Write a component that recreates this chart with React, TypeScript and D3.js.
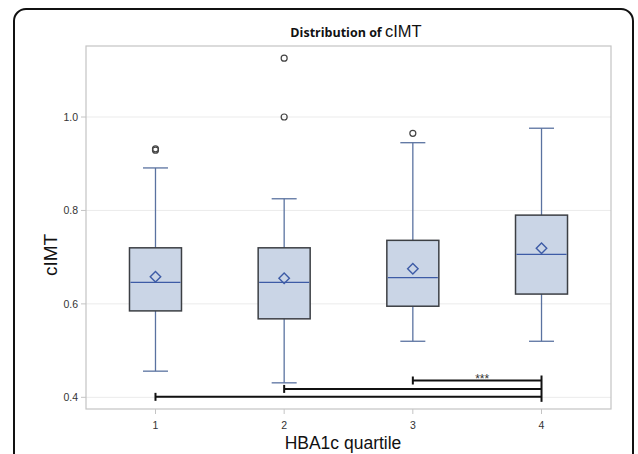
import React from "react";
import * as d3 from "d3";

// values
const quartiles = ["1", "2", "3", "4"];
const q1s = [0.585, 0.568, 0.595, 0.621];
const medians = [0.646, 0.646, 0.656, 0.706];
const q3s = [0.72, 0.72, 0.736, 0.79];
const means = [0.658, 0.655, 0.675, 0.719];
const whiskerLow = [0.456, 0.431, 0.52, 0.52];
const whiskerHigh = [0.891, 0.825, 0.945, 0.976];
const outliers = [[0.929, 0.932], [1.126, 1.0], [0.965], []];
const yTicks = [0.4, 0.6, 0.8, 1.0];

const compFrom = ["3", "2", "1"];
const compTo = ["4", "4", "4"];
const compLevel = [0.436, 0.418, 0.401];
const compLabel = ["***", "", ""];

const W = 638;
const H = 454;
const plot = { left: 86, top: 46, right: 611, bottom: 409 };

export default function App() {
  const x = d3.scalePoint<string>()
    .domain(quartiles)
    .range([plot.left, plot.right])
    .padding(0.54);
  const y = d3.scaleLinear().domain([0.375, 1.152]).range([plot.bottom, plot.top]);

  const boxW = 52;
  const capW = 25;
  const sans = "'Liberation Sans', Arial, sans-serif";

  const diamond = d3.symbol().type(d3.symbolDiamond2).size(70);

  return (
    <svg width={W} height={H} style={{ position: "absolute", left: 0, top: 0 }}>
      <rect x={0} y={0} width={W} height={H} fill="#fff" />
      {/* outer rounded frame */}
      <rect x={14} y={9} width={619} height={470} rx={12} fill="none" stroke="#111" strokeWidth={2} />

      {/* title */}
      <text x={356} y={37} textAnchor="middle" fill="#111">
        <tspan fontFamily="'Open Sans', sans-serif" fontWeight="bold" fontSize={12.5}>Distribution of </tspan>
        <tspan fontFamily={sans} fontSize={16.5}>cIMT</tspan>
      </text>

      {/* grid */}
      {yTicks.map((t) => (
        <line key={"g" + t} x1={plot.left} x2={plot.right} y1={y(t)} y2={y(t)} stroke="#ebebeb" strokeWidth={1} />
      ))}

      {/* plot frame */}
      <rect x={plot.left} y={plot.top} width={plot.right - plot.left} height={plot.bottom - plot.top}
        fill="none" stroke="#c4c4c4" strokeWidth={1.2} />

      {/* y axis ticks */}
      {yTicks.map((t) => (
        <g key={"y" + t}>
          <line x1={plot.left - 5} x2={plot.left} y1={y(t)} y2={y(t)} stroke="#c4c4c4" />
          <text x={plot.left - 8} y={y(t)} dy="0.35em" textAnchor="end" fontFamily={sans} fontSize={10.5} fill="#333">
            {d3.format(".1f")(t)}
          </text>
        </g>
      ))}

      {/* x axis ticks */}
      {quartiles.map((q) => (
        <g key={"x" + q}>
          <line x1={x(q)} x2={x(q)} y1={plot.bottom} y2={plot.bottom + 5} stroke="#c4c4c4" />
          <text x={x(q)} y={plot.bottom + 20} textAnchor="middle" fontFamily={sans} fontSize={10.5} fill="#333">
            {q}
          </text>
        </g>
      ))}

      {/* axis labels */}
      <text x={343} y={449} textAnchor="middle" fontFamily={sans} fontSize={17.5} fill="#111">HBA1c quartile</text>
      <text transform={`translate(57,255) rotate(-90)`} textAnchor="middle" fontFamily={sans} fontSize={19} fill="#111">cIMT</text>

      {/* boxes */}
      {quartiles.map((q, i) => {
        const cx = x(q) as number;
        return (
          <g key={"b" + q}>
            <line x1={cx} x2={cx} y1={y(q3s[i])} y2={y(whiskerHigh[i])} stroke="#5a72a0" strokeWidth={1.3} />
            <line x1={cx} x2={cx} y1={y(q1s[i])} y2={y(whiskerLow[i])} stroke="#5a72a0" strokeWidth={1.3} />
            <line x1={cx - capW / 2} x2={cx + capW / 2} y1={y(whiskerHigh[i])} y2={y(whiskerHigh[i])} stroke="#5a72a0" strokeWidth={1.3} />
            <line x1={cx - capW / 2} x2={cx + capW / 2} y1={y(whiskerLow[i])} y2={y(whiskerLow[i])} stroke="#5a72a0" strokeWidth={1.3} />
            <rect x={cx - boxW / 2} y={y(q3s[i])} width={boxW} height={y(q1s[i]) - y(q3s[i])}
              fill="#cad5e6" stroke="#3c3f44" strokeWidth={1.5} />
            <line x1={cx - boxW / 2 + 1} x2={cx + boxW / 2 - 1} y1={y(medians[i])} y2={y(medians[i])} stroke="#3d5ba6" strokeWidth={1.3} />
            <path d={diamond() as string} transform={`translate(${cx},${y(means[i])})`} fill="none" stroke="#3d5ba6" strokeWidth={1.4} />
            {outliers[i].map((o, k) => (
              <circle key={k} cx={cx} cy={y(o)} r={3} fill="none" stroke="#444" strokeWidth={1.2} />
            ))}
          </g>
        );
      })}

      {/* significance brackets */}
      {compFrom.map((f, i) => {
        const x1 = x(f) as number;
        const x2 = x(compTo[i]) as number;
        const yy = y(compLevel[i]);
        return (
          <g key={"c" + i}>
            <line x1={x1} x2={x2} y1={yy} y2={yy} stroke="#111" strokeWidth={2} />
            <line x1={x1} x2={x1} y1={yy - 4} y2={yy + 4} stroke="#111" strokeWidth={2} />
            {compLabel[i] && (
              <text x={(x1 + x2) / 2 + 5} y={yy + 2} textAnchor="middle" fontFamily={sans} fontSize={12} fill="#333">
                {compLabel[i]}
              </text>
            )}
          </g>
        );
      })}
      <line x1={x("4") as number} x2={x("4") as number}
        y1={y(d3.max(compLevel) as number) - 5} y2={y(d3.min(compLevel) as number) + 5}
        stroke="#111" strokeWidth={2} />
    </svg>
  );
}
